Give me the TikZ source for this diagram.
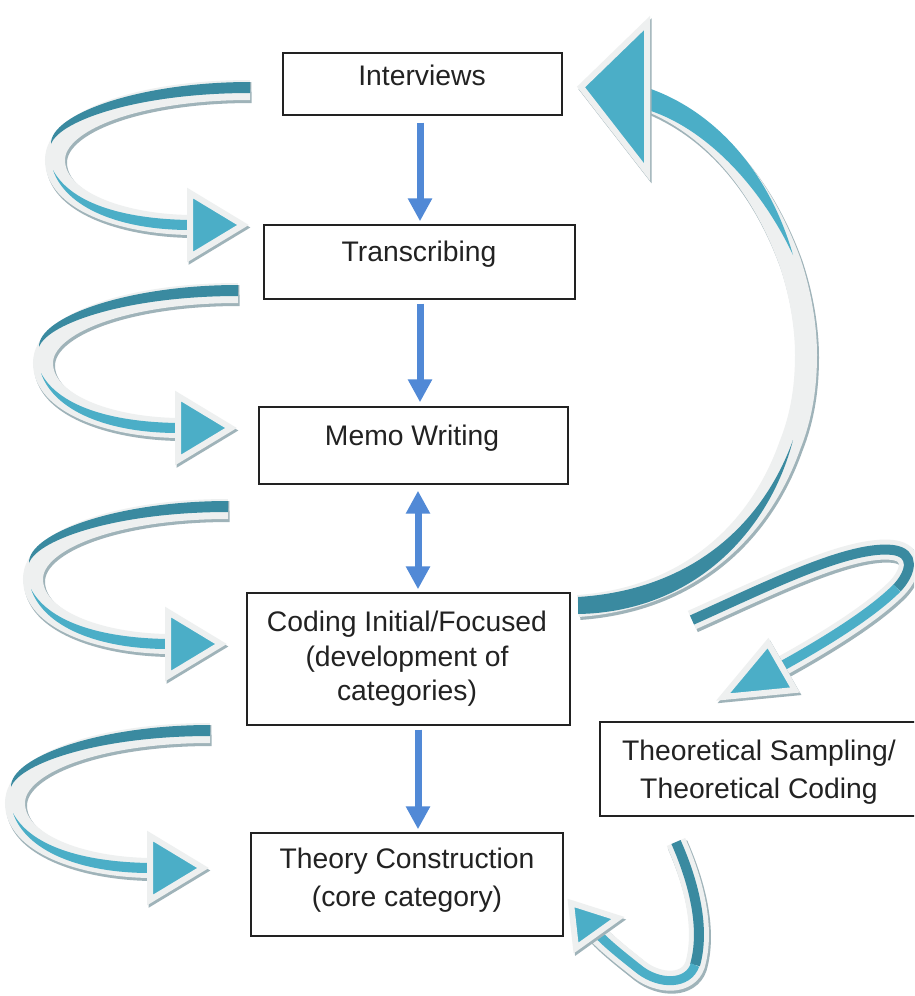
\documentclass[tikz,border=0pt]{standalone}
\usepackage{fontspec}
\setmainfont{Liberation Sans}
\usetikzlibrary{arrows.meta}
\definecolor{tealD}{HTML}{3A8AA0}
\definecolor{tealL}{HTML}{4BAEC7}
\definecolor{rib}{HTML}{EEF0F0}
\definecolor{ribsh}{HTML}{9FB3B9}
\definecolor{arrblue}{HTML}{5189D6}
\definecolor{ink}{HTML}{222222}
\newcommand\leftribbon[2]{%
 \begin{scope}[shift={#1}]
  \coordinate (#2s) at (0,0);
  \coordinate (#2m) at (-195,70);
  \coordinate (#2e) at (-60,135);
  \path[ribshadow] (#2s) .. controls (-110,0) and (-195,30) .. (#2m) .. controls (-195,110) and (-130,134) .. (#2e);
  \path[ribband] (#2s) .. controls (-110,0) and (-195,30) .. (#2m) .. controls (-195,110) and (-130,134) .. (#2e);
  \fill[tealD] (0,-8) .. controls (-110,-8) and (-200,24) .. (-199,54) .. controls (-190,30) and (-110,3) .. (0,3) -- cycle;
  \fill[tealL] (-197,80) .. controls (-184,118) and (-130,140) .. (-60,140) -- (-60,130) .. controls (-130,129) and (-180,112) .. (-197,80) -- cycle;
  \path[headsh] (-60,103) -- (-7,135) -- (-60,167) -- cycle;
  \path[head] (-60,103) -- (-7,135) -- (-60,167) -- cycle;
 \end{scope}}
\begin{document}
\begin{tikzpicture}[x=1pt,y=-1pt,
  box/.style={draw=ink, line width=1.4pt, inner sep=0pt},
  txt/.style={font=\fontsize{28.3}{34.5}\selectfont, text=ink, align=center, inner sep=0pt, anchor=north},
  txtw/.style={txt, font=\fontsize{28.3}{38}\selectfont},
  barrow/.style={draw=arrblue, line width=7pt, -{Triangle[length=23pt,width=23pt]}},
  bbarrow/.style={draw=arrblue, line width=7pt, {Triangle[length=23pt,width=23pt]}-{Triangle[length=23pt,width=23pt]}},
  ribshadow/.style={draw=ribsh, line width=21pt, transform canvas={shift={(1.5pt,-2.5pt)}}},
  ribband/.style={draw=rib, line width=20pt},
  ribD/.style={draw=tealD, line width=9pt},
  ribL/.style={draw=tealL, line width=8pt},
  headsh/.style={fill=ribsh, draw=ribsh, line width=6pt, line join=miter, miter limit=4, transform canvas={shift={(1.5pt,-2.5pt)}}},
  head/.style={fill=tealL, draw=rib, line width=6pt, line join=miter, miter limit=4}
]
\useasboundingbox (0,0) rectangle (914,996);
\clip (0,0) rectangle (914,996);
\fill[white] (0,0) rectangle (914,996);

% boxes
\node[box, minimum width=279pt, minimum height=62pt] (intv) at (422.5,84) {};
\node[box, minimum width=311pt, minimum height=74pt] (trans) at (419.5,262) {};
\node[box, minimum width=309pt, minimum height=77pt] (memo) at (413.5,445.5) {};
\node[box, minimum width=323pt, minimum height=132pt] (coding) at (408.5,659) {};
\node[box, minimum width=312pt, minimum height=103pt] (theory) at (407,884.5) {};
\node[box, minimum width=318pt, minimum height=94pt] (samp) at (759,769) {};

% texts
\node[txt] (intvT) at (422,65) {Interviews};
\node[txt] (transT) at (419,241) {Transcribing};
\node[txt] (memoT) at (412,425) {Memo Writing};
\node[txt] (codingT) at (407,611) {Coding Initial/Focused\\(development of\\categories)};
\node[txtw] (theoryT) at (407,848) {Theory Construction\\(core category)};
\node[txtw] (sampT) at (759,740) {Theoretical Sampling/\\Theoretical Coding};

% blue arrows
\coordinate (ax1) at (420,0);
\coordinate (ax2) at (418,0);
\draw[barrow, shorten <=7pt, shorten >=3pt] (ax1 |- intv.south) -- (ax1 |- trans.north);
\draw[barrow, shorten <=4pt, shorten >=4pt] (ax1 |- trans.south) -- (ax1 |- memo.north);
\draw[bbarrow, shorten <=6pt, shorten >=3pt] (ax2 |- memo.south) -- (ax2 |- coding.north);
\draw[barrow, shorten <=4pt, shorten >=3pt] (ax2 |- coding.south) -- (ax2 |- theory.north);

% left ribbons
\leftribbon{(250,90)}{La}
\leftribbon{(238,293)}{Lb}
\leftribbon{(228,509)}{Lc}
\leftribbon{(210,733)}{Ld}

% big return arrow
\coordinate (B0) at (578,606);
\coordinate (B1) at (790,445);
\coordinate (B2) at (806,355);
\coordinate (B3) at (790,262);
\coordinate (B4) at (648,100);
\path[ribshadow, line width=23pt] (B0) .. controls (690,598) and (760,530) .. (B1) .. controls (802,415) and (806,385) .. (B2) .. controls (806,325) and (800,292) .. (B3) .. controls (760,180) and (710,125) .. (B4);
\path[ribband, line width=22pt] (B0) .. controls (690,598) and (760,530) .. (B1) .. controls (802,415) and (806,385) .. (B2) .. controls (806,325) and (800,292) .. (B3) .. controls (760,180) and (710,125) .. (B4);
\fill[tealD] (578,597) .. controls (690,590) and (762,526) .. (793,440) .. controls (770,530) and (695,612) .. (578,614) -- cycle;
\fill[tealL] (648,88) .. controls (712,110) and (768,168) .. (793,255) .. controls (760,185) and (705,128) .. (648,110) -- cycle;
\path[headsh] (581,87) -- (647,23) -- (647,172) -- cycle;
\path[head] (581,87) -- (647,23) -- (647,172) -- cycle;

% arrow towards theoretical sampling
\coordinate (S0) at (692,620);
\coordinate (S1) at (893,550);
\coordinate (S2) at (897,588);
\coordinate (S3) at (782,666);
\path[ribshadow] (S0) .. controls (770,585) and (850,545) .. (S1) .. controls (915,553) and (912,572) .. (S2) .. controls (870,615) and (820,645) .. (S3);
\path[ribband] (S0) .. controls (770,585) and (850,545) .. (S1) .. controls (915,553) and (912,572) .. (S2) .. controls (870,615) and (820,645) .. (S3);
\path[ribD, line width=10pt] (S0) .. controls (770,585) and (850,545) .. (S1) .. controls (915,553) and (912,572) .. (S2);
\path[ribL, line width=10pt] (S2) .. controls (870,615) and (820,645) .. (S3);
\path[headsh] (723,697) -- (768,643) -- (795,690) -- cycle;
\path[head] (723,697) -- (768,643) -- (795,690) -- cycle;

% arrow towards theory construction
\coordinate (T0) at (676,842);
\coordinate (T1) at (695,965);
\coordinate (T2) at (640,970);
\coordinate (T3) at (596,932);
\path[ribshadow] (T0) .. controls (695,885) and (705,930) .. (T1) .. controls (688,985) and (660,985) .. (T2) .. controls (625,958) and (608,945) .. (T3);
\path[ribband] (T0) .. controls (695,885) and (705,930) .. (T1) .. controls (688,985) and (660,985) .. (T2) .. controls (625,958) and (608,945) .. (T3);
\path[ribD, line width=10pt] (T0) .. controls (695,885) and (705,930) .. (T1);
\path[ribL, line width=9pt] (T1) .. controls (688,985) and (660,985) .. (T2) .. controls (625,958) and (608,945) .. (T3);
\path[headsh] (571,903) -- (618,918) -- (576,948) -- cycle;
\path[head] (571,903) -- (618,918) -- (576,948) -- cycle;
\end{tikzpicture}
\end{document}
